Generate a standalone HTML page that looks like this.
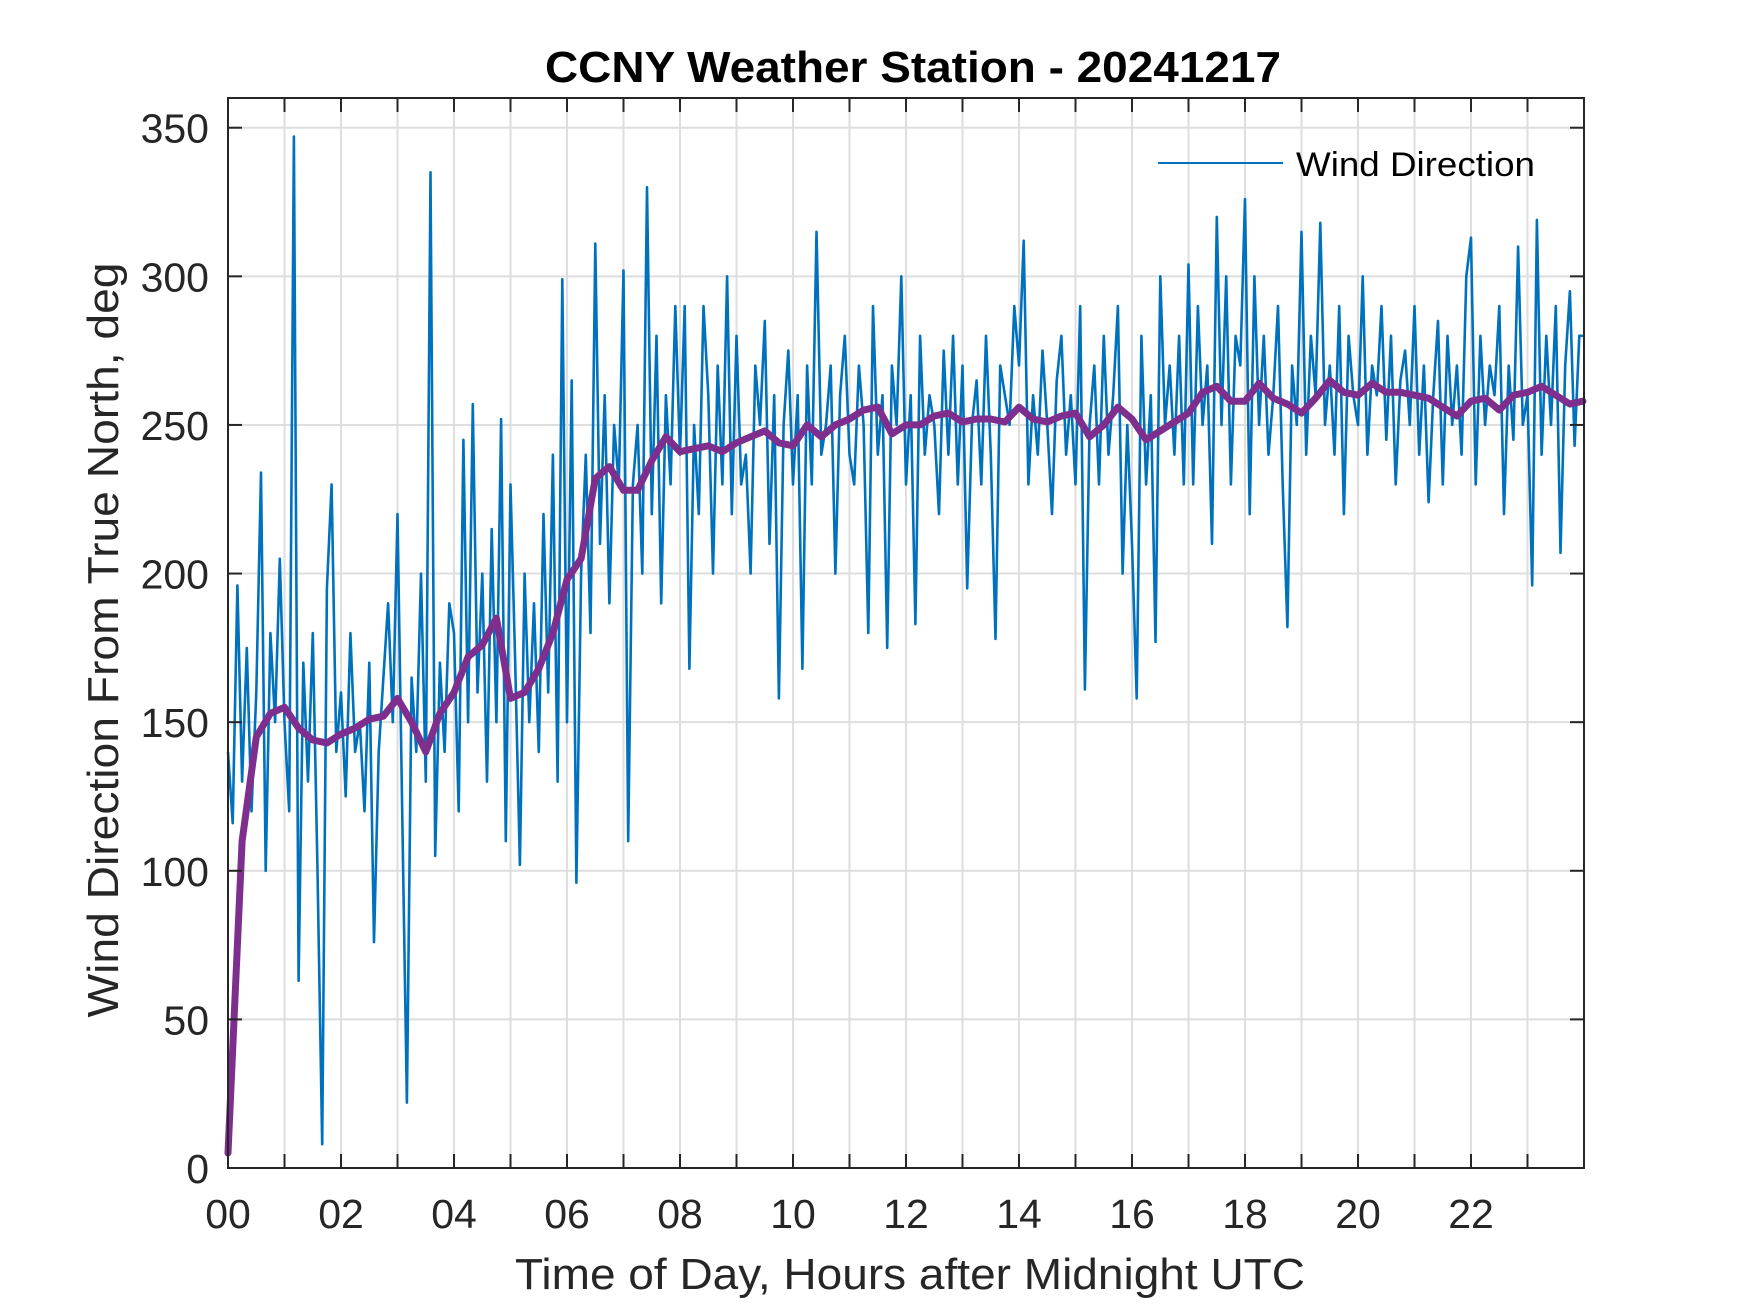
<!DOCTYPE html>
<html><head><meta charset="utf-8"><style>
html,body{margin:0;padding:0;background:#fff;}
svg{display:block;font-family:"Liberation Sans",Arial,sans-serif;}
</style></head><body>
<svg id="chart" width="1750" height="1313" viewBox="0 0 1750 1313" xmlns="http://www.w3.org/2000/svg">
<rect x="0" y="0" width="1750" height="1313" fill="#fff"/>
<g id="grid"></g>
<g id="series"></g>
<g id="axes"></g>
<text x="913" y="82" text-anchor="middle" font-size="44" font-weight="bold" fill="#000" textLength="736" lengthAdjust="spacingAndGlyphs">CCNY Weather Station - 20241217</text>
<text x="910" y="1289" text-anchor="middle" font-size="44" fill="#262626" textLength="790" lengthAdjust="spacingAndGlyphs">Time of Day, Hours after Midnight UTC</text>
<text transform="translate(118,640) rotate(-90)" text-anchor="middle" font-size="44" fill="#262626" textLength="755" lengthAdjust="spacingAndGlyphs">Wind Direction From True North, deg</text>
<g>
<line x1="1158" y1="163" x2="1283" y2="163" stroke="#0072BD" stroke-width="2"/>
<text x="1296" y="176" font-size="34" fill="#000" textLength="239" lengthAdjust="spacingAndGlyphs">Wind Direction</text>
</g>
</svg>
<script>
const xTickValues = [0,2,4,6,8,10,12,14,16,18,20,22];
const xTickLabels = ["00","02","04","06","08","10","12","14","16","18","20","22"];
const yTickValues = [0,50,100,150,200,250,300,350];
const yTickLabels = ["0","50","100","150","200","250","300","350"];
const windStepHours = 5/60;
const windDirection = [
140,116,196,130,175,120,160,234,100,180,150,205,
150,120,347,63,170,130,180,100,8,195,230,140,
160,125,180,140,150,120,170,76,140,165,190,150,
220,120,22,165,140,200,130,335,105,170,140,190,
180,120,245,150,257,160,200,130,215,150,252,110,
230,170,102,200,150,190,140,220,160,240,130,299,
150,265,96,200,240,180,311,210,260,190,250,230,
302,110,230,250,200,330,220,280,190,260,230,290,
240,290,168,250,220,290,260,200,270,230,300,220,
280,230,240,200,270,250,285,210,260,158,250,275,
230,260,168,270,230,315,240,250,270,200,260,280,
240,230,270,250,180,290,240,260,175,270,250,300,
230,260,183,280,240,260,250,220,275,240,280,230,
270,195,250,265,230,280,240,178,270,260,250,290,
270,312,230,260,240,275,250,220,265,280,240,260,
230,290,161,250,270,230,280,240,260,290,200,250,
210,158,280,230,260,177,300,250,270,240,280,230,
304,230,290,250,270,210,320,250,300,230,280,270,
326,220,300,250,280,240,260,290,230,182,270,250,
315,240,280,260,318,250,270,240,290,220,280,260,
250,300,240,270,260,290,245,280,230,265,275,250,
290,240,270,224,260,285,230,280,250,270,240,300,
313,230,280,250,270,260,290,220,270,245,310,250,
260,196,319,240,280,250,290,207,270,295,243,280,
280];
const smoothStepHours = 0.25;
const smoothDirection = [
5,110,145,153,155,148,144,143,146,148,151,152,158,150,140,153,
160,172,176,185,158,160,168,180,198,205,232,236,228,228,238,246,
241,242,243,241,244,246,248,244,243,250,246,250,252,255,256,247,
250,250,253,254,251,252,252,251,256,252,251,253,254,246,250,256,
252,245,248,251,254,261,263,258,258,264,259,257,254,259,265,261,
260,264,261,261,260,259,256,253,258,259,255,260,261,263,260,257,258];

const X0=228,X1=1584,Y0=1168,Y1=98,XMAX=24,YMAX=360;
const xs = v => X0 + (X1-X0)*v/XMAX;
const ys = v => Y0 - (Y0-Y1)*v/YMAX;
const NS="http://www.w3.org/2000/svg";
function mk(tag, attrs, parent){const e=document.createElementNS(NS,tag);for(const k in attrs)e.setAttribute(k,attrs[k]);parent.appendChild(e);return e;}
const grid=document.getElementById('grid'), axes=document.getElementById('axes'), series=document.getElementById('series');

for(let h=1;h<24;h++){
  const g=mk('line',{x1:xs(h),x2:xs(h),y1:Y1,y2:Y0,stroke:'#dedede','stroke-width':2},grid);
  
  
  const t1=mk('line',{x1:xs(h),x2:xs(h),y1:Y0,y2:Y0-14,stroke:'#262626','stroke-width':2},axes);
  
  
  const t2=mk('line',{x1:xs(h),x2:xs(h),y1:Y1,y2:Y1+14,stroke:'#262626','stroke-width':2},axes);
  
  
}
yTickValues.forEach((v,i)=>{
  if(v>0){
    const g=mk('line',{x1:X0,x2:X1,y1:ys(v),y2:ys(v),stroke:'#dedede','stroke-width':2},grid);
    
    
    const t1=mk('line',{x1:X0,x2:X0+14,y1:ys(v),y2:ys(v),stroke:'#262626','stroke-width':2},axes);
    
    
    const t2=mk('line',{x1:X1,x2:X1-14,y1:ys(v),y2:ys(v),stroke:'#262626','stroke-width':2},axes);
    
    
  }
  const lb=mk('text',{x:209,y:ys(v)+15,'text-anchor':'end','font-size':41,fill:'#262626'},axes);
  lb.textContent=yTickLabels[i];
  
  
});
xTickValues.forEach((v,i)=>{
  const lb=mk('text',{x:xs(v),y:1228,'text-anchor':'middle','font-size':41,fill:'#262626'},axes);
  lb.textContent=xTickLabels[i];
  
  
});
const box=mk('rect',{x:X0,y:Y1,width:X1-X0,height:Y0-Y1,fill:'none',stroke:'#262626','stroke-width':2},axes);



const p1=windDirection.map((v,i)=>xs(Math.min(i*windStepHours,23.98)).toFixed(1)+','+ys(v).toFixed(1)).join(' ');
const wl=mk('polyline',{points:p1,fill:'none',stroke:'#0072BD','stroke-width':2.6,'stroke-linejoin':'round'},series);


const p2=smoothDirection.map((v,i)=>xs(Math.min(i*smoothStepHours,23.98)).toFixed(1)+','+ys(v).toFixed(1)).join(' ');
const sl=mk('polyline',{points:p2,fill:'none',stroke:'#7E2F8E','stroke-width':7,'stroke-linejoin':'round','stroke-linecap':'round'},series);


</script>
</body></html>
